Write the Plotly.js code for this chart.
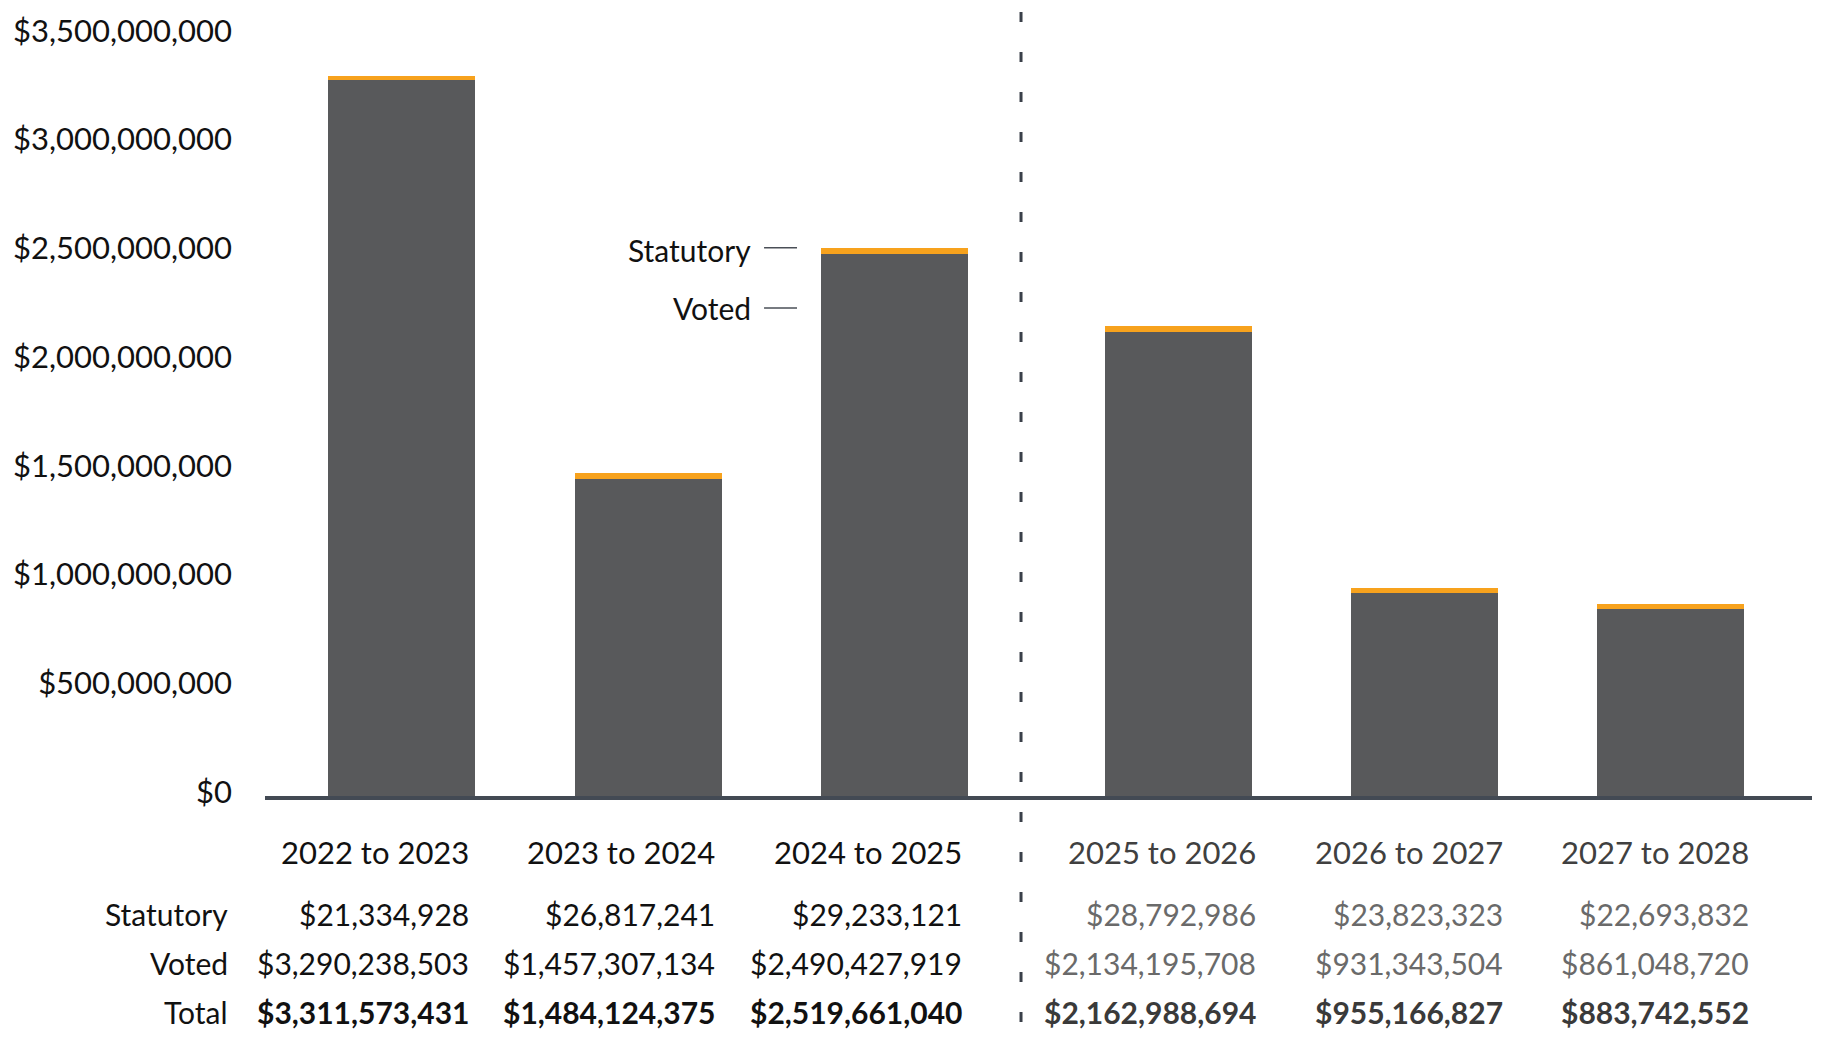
<!DOCTYPE html>
<html>
<head>
<meta charset="utf-8">
<script src="https://cdn.plot.ly/plotly-3.0.1.min.js"></script>
<style>html,body{margin:0;padding:0;background:#fff;}#chart{width:1822px;height:1051px;}</style>
</head>
<body>
<div id="chart"></div>
<script>
// ---- data ----
const actualYears = ['2022 to 2023', '2023 to 2024', '2024 to 2025'];
const plannedYears = ['2025 to 2026', '2026 to 2027', '2027 to 2028'];
const statutoryActual = [21334928, 26817241, 29233121];
const statutoryPlanned = [28792986, 23823323, 22693832];
const votedActual = [3290238503, 1457307134, 2490427919];
const votedPlanned = [2134195708, 931343504, 861048720];
const totalActual = [3311573431, 1484124375, 2519661040];
const totalPlanned = [2162988694, 955166827, 883742552];
const rowLabels = ['Statutory', 'Voted', 'Total'];
const seriesNames = ['Statutory', 'Voted'];
const yTicks = [0, 500000000, 1000000000, 1500000000, 2000000000, 2500000000, 3000000000, 3500000000];

// ---- style ----
const FONT = 'Lato, "Open Sans", sans-serif';
const VOTED_COLOR = '#58595b';
const STAT_COLOR = '#f7a21d';
const AXIS_COLOR = '#434a54';
const BAR_W = 0.596;

const fmt = v => '$' + v.toLocaleString('en-US');

const traces = [
  {type: 'bar', x: actualYears, y: votedActual, xaxis: 'x', yaxis: 'y', name: seriesNames[1],
   marker: {color: VOTED_COLOR}, width: BAR_W, hoverinfo: 'skip'},
  {type: 'bar', x: actualYears, y: statutoryActual, xaxis: 'x', yaxis: 'y', name: seriesNames[0],
   marker: {color: STAT_COLOR}, width: BAR_W, hoverinfo: 'skip'},
  {type: 'bar', x: plannedYears, y: votedPlanned, xaxis: 'x2', yaxis: 'y', name: seriesNames[1],
   marker: {color: VOTED_COLOR}, width: BAR_W, hoverinfo: 'skip'},
  {type: 'bar', x: plannedYears, y: statutoryPlanned, xaxis: 'x2', yaxis: 'y', name: seriesNames[0],
   marker: {color: STAT_COLOR}, width: BAR_W, hoverinfo: 'skip'}
];

const ROW_Y = [-0.0722, -0.152, -0.215, -0.278];
const annotations = [];

function addColumn(xref, cat, stat, voted, total, planned) {
  const shift = planned ? 80 : 69;
  const cHead = planned ? '#404040' : '#111111';
  const cVal = planned ? '#6a6a6a' : '#111111';
  const cTot = planned ? '#3a3a3a' : '#111111';
  const rows = [
    {t: cat, c: cHead, w: 'normal', s: 31},
    {t: fmt(stat), c: cVal, w: 'normal', s: 30},
    {t: fmt(voted), c: cVal, w: 'normal', s: 30},
    {t: fmt(total), c: cTot, w: 'bold', s: 30}
  ];
  rows.forEach((r, k) => {
    annotations.push({xref: xref, yref: 'paper', x: cat, y: ROW_Y[k], text: r.t,
      showarrow: false, xanchor: 'right', yanchor: 'middle', xshift: shift,
      font: {family: FONT, size: r.s, color: r.c, weight: r.w}});
  });
}
actualYears.forEach((c, i) => addColumn('x', c, statutoryActual[i], votedActual[i], totalActual[i], false));
plannedYears.forEach((c, i) => addColumn('x2', c, statutoryPlanned[i], votedPlanned[i], totalPlanned[i], true));

rowLabels.forEach((r, k) => {
  annotations.push({xref: 'paper', yref: 'paper', x: -0.0226, y: ROW_Y[k + 1], text: r,
    showarrow: false, xanchor: 'right', yanchor: 'middle',
    font: {family: FONT, size: 30, color: '#111111'}});
});

// legend labels
const LEG_Y = [0.7036, 0.6289];
seriesNames.forEach((s, k) => {
  annotations.push({xref: 'paper', yref: 'paper', x: 0.3155, y: LEG_Y[k], text: s,
    showarrow: false, xanchor: 'right', yanchor: 'middle',
    font: {family: FONT, size: 30, color: '#111111'}});
});

const shapes = [
  {type: 'line', xref: 'paper', yref: 'paper', x0: 0.4887, x1: 0.4887, y0: 1.0103, y1: -0.3015,
   line: {color: '#3a4049', width: 3, dash: '10px,30px'}},
  {type: 'line', xref: 'paper', yref: 'paper', x0: 0.3226, x1: 0.3439, y0: LEG_Y[0] + 0.003, y1: LEG_Y[0] + 0.003,
   line: {color: '#4a4f57', width: 1.5}},
  {type: 'line', xref: 'paper', yref: 'paper', x0: 0.3226, x1: 0.3439, y0: LEG_Y[1], y1: LEG_Y[1],
   line: {color: '#4a4f57', width: 1.5}}
];

const xCommon = {type: 'category', showgrid: false, zeroline: false, showticklabels: false,
  ticks: '', showline: true, linecolor: AXIS_COLOR, linewidth: 3.5, fixedrange: true};

const layout = {
  width: 1822, height: 1051,
  margin: {l: 265, r: 10, t: 20, b: 255},
  paper_bgcolor: '#ffffff', plot_bgcolor: '#ffffff',
  barmode: 'stack',
  showlegend: false,
  font: {family: FONT, size: 30, color: '#111111'},
  xaxis: Object.assign({}, xCommon, {domain: [0, 0.4887], range: [-0.554, 2.513], anchor: 'y'}),
  xaxis2: Object.assign({}, xCommon, {domain: [0.4887, 1], range: [-0.640, 2.575], anchor: 'y'}),
  yaxis: {range: [0, 3568000000],
    tickmode: 'array', tickvals: yTicks, ticktext: yTicks.map(fmt),
    showgrid: false, zeroline: false, showline: false, ticks: '',
    ticklabelstandoff: 32, ticklabelshift: -4,
    tickfont: {family: FONT, size: 31, color: '#111111'}, fixedrange: true},
  annotations: annotations,
  shapes: shapes
};

Plotly.newPlot('chart', traces, layout, {displayModeBar: false, staticPlot: true});
</script>
</body>
</html>
